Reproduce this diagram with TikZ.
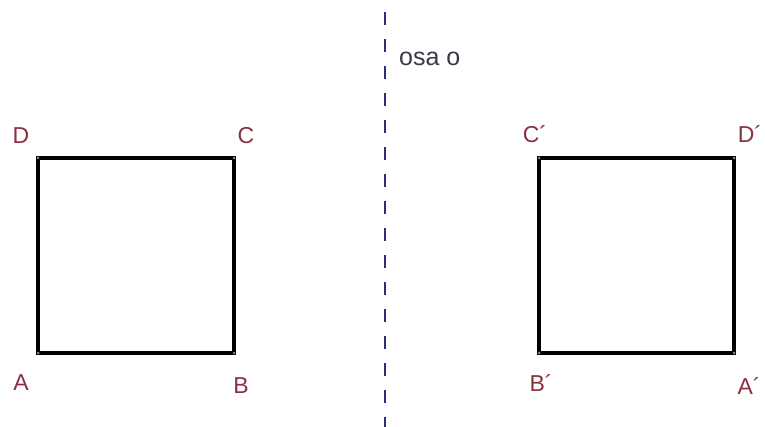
\documentclass[tikz,border=0pt]{standalone}
\usepackage{fontspec}
\setmainfont{Liberation Sans}
\definecolor{lab}{HTML}{8A3040}
\definecolor{axis}{HTML}{2A2F7A}
\definecolor{axtext}{HTML}{3A3A4A}
\begin{document}
\begin{tikzpicture}[x=1pt,y=-1pt,
  lbl/.style={text=lab,font=\fontsize{23}{25}\selectfont,inner sep=0pt},
  sq/.style={draw=black,line width=3.6pt,line join=miter},
  pt/.style={circle,fill=lab!70,inner sep=0pt,minimum size=3pt}]
\useasboundingbox (0,0) rectangle (765,427);
\fill[white] (0,0) rectangle (765,427);
% axis
\coordinate (top) at (385,12);
\coordinate (bot) at (385,427);
\begin{scope}
\clip (0,0) rectangle (765,427);
\draw[axis,line width=1.4pt,dash pattern=on 13pt off 14pt] (top) -- ([yshift=-20pt]bot);
\end{scope}
\node[inner sep=0pt,text=axtext,font=\fontsize{25}{27}\selectfont,anchor=west] (osa) at (399,59) {osa o};
% left square
\coordinate (A) at (38,353);
\coordinate (B) at (234,353);
\coordinate (C) at (234,158);
\coordinate (D) at (38,158);
\draw[sq] (A) -- (B) -- (C) -- (D) -- cycle;
\foreach \p in {A,B,C,D} \node[pt] at (\p) {};
\node[lbl] (lD) at (21,136) {D};
\node[lbl] (lC) at (246,136) {C};
\node[lbl] (lA) at (21,383) {A};
\node[lbl] (lB) at (241,386) {B};
% right square
\coordinate (B') at (539,353);
\coordinate (A') at (734,353);
\coordinate (D') at (734,158);
\coordinate (C') at (539,158);
\draw[sq] (B') -- (A') -- (D') -- (C') -- cycle;
\foreach \p in {A',B',C',D'} \node[pt] at (\p) {};
\node[lbl] (lC') at (535,134) {C\textasciiacute};
\node[lbl] (lD') at (750,134) {D\textasciiacute};
\node[lbl] (lB') at (541,383) {B\textasciiacute};
\node[lbl] (lA') at (749,386) {A\textasciiacute};
\end{tikzpicture}
\end{document}
